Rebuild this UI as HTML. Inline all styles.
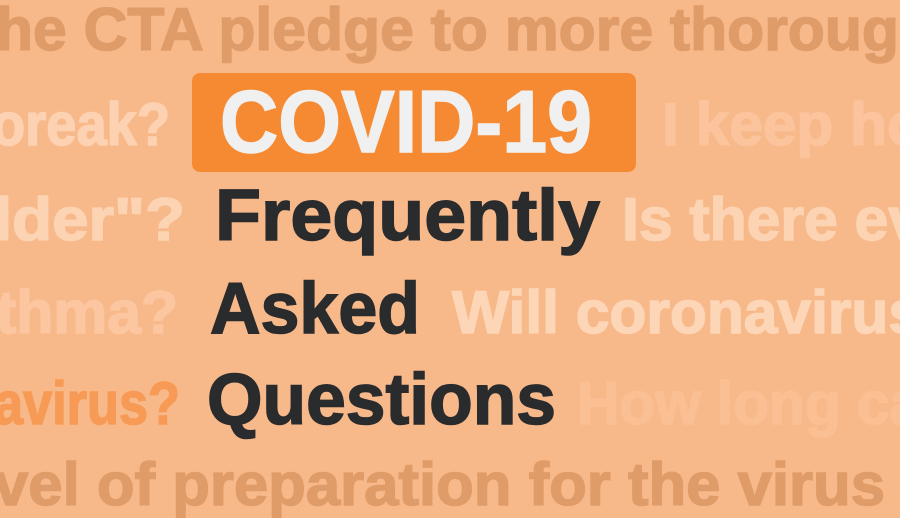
<!DOCTYPE html>
<html><head><meta charset="utf-8"><style>
html,body{margin:0;padding:0;background:#f8b98a;}
svg{display:block}
text{font-family:"Liberation Sans",sans-serif;font-weight:bold;}
</style></head><body>
<svg width="900" height="518" viewBox="0 0 900 518">
<rect x="0" y="0" width="900" height="518" fill="#f8b98a"/>
<text x="-4" y="50" font-size="60" fill="#e09c68" stroke="#e09c68" stroke-width="1.5" textLength="940" lengthAdjust="spacingAndGlyphs">he CTA pledge to more thorough</text>
<text x="-8" y="145" font-size="60" fill="#fcd2b2" stroke="#fcd2b2" stroke-width="1.5" textLength="178" lengthAdjust="spacingAndGlyphs">oreak?</text>
<text x="662" y="145" font-size="60" fill="#fbc49c" stroke="#fbc49c" stroke-width="1.5" textLength="262" lengthAdjust="spacingAndGlyphs">I keep ho</text>
<rect x="192" y="73" width="444" height="99" rx="8" fill="#f68a33"/>
<text x="220" y="152" font-size="88" fill="#f0f0f0" stroke="#f0f0f0" stroke-width="1.5" textLength="372" lengthAdjust="spacingAndGlyphs">COVID-19</text>
<text x="-6" y="240" font-size="60" fill="#fcd4b4" stroke="#fcd4b4" stroke-width="1.5" textLength="191" lengthAdjust="spacingAndGlyphs">lder"?</text>
<text x="215" y="240" font-size="72" fill="#2a2b2d" stroke="#2a2b2d" stroke-width="1.5" textLength="385" lengthAdjust="spacingAndGlyphs">Frequently</text>
<text x="622" y="240" font-size="60" fill="#fcd4b4" stroke="#fcd4b4" stroke-width="1.5" textLength="300" lengthAdjust="spacingAndGlyphs">Is there ev</text>
<text x="-4" y="333" font-size="60" fill="#fbc6a0" stroke="#fbc6a0" stroke-width="1.5" textLength="182" lengthAdjust="spacingAndGlyphs">thma?</text>
<text x="210" y="333" font-size="72" fill="#2a2b2d" stroke="#2a2b2d" stroke-width="1.5" textLength="210" lengthAdjust="spacingAndGlyphs">Asked</text>
<text x="452" y="333" font-size="60" fill="#fdd6b8" stroke="#fdd6b8" stroke-width="1.5" textLength="470" lengthAdjust="spacingAndGlyphs">Will coronavirus</text>
<text x="-6" y="424" font-size="60" fill="#f79a55" stroke="#f79a55" stroke-width="1.5" textLength="186" lengthAdjust="spacingAndGlyphs">avirus?</text>
<text x="207" y="424" font-size="72" fill="#2a2b2d" stroke="#2a2b2d" stroke-width="1.5" textLength="349" lengthAdjust="spacingAndGlyphs">Questions</text>
<text x="577" y="424" font-size="60" fill="#fbbf94" stroke="#fbbf94" stroke-width="1.5" textLength="345" lengthAdjust="spacingAndGlyphs">How long ca</text>
<text x="-6" y="505" font-size="60" fill="#e09c68" stroke="#e09c68" stroke-width="1.5" textLength="891" lengthAdjust="spacingAndGlyphs">vel of preparation for the virus</text>
</svg>
</body></html>
